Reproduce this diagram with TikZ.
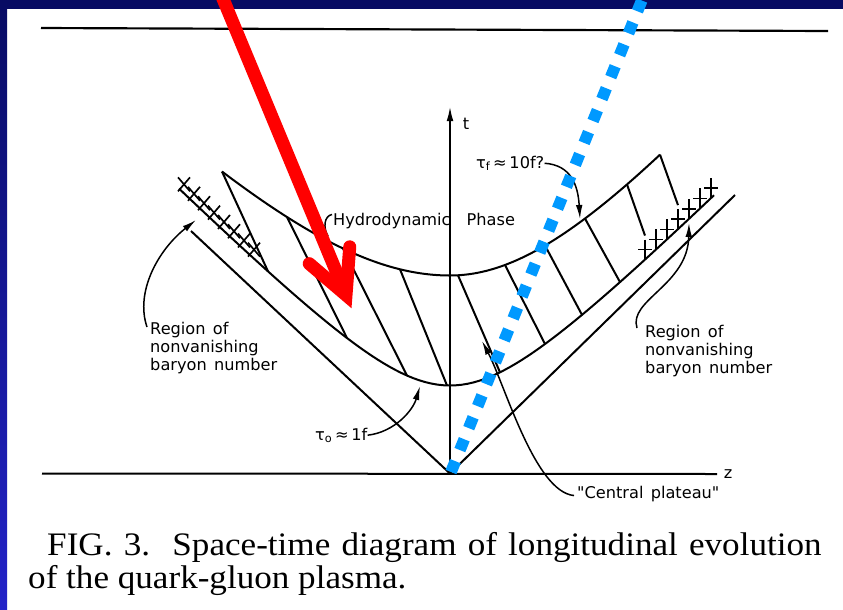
\documentclass[tikz,border=0pt]{standalone}
\usepackage{fontspec}
\setmainfont[FakeStretch=1.07]{Liberation Serif}
\newfontfamily\figfont{DejaVu Sans}
\newcommand\figsize{\fontsize{13.8}{15.5}\selectfont\spaceskip 0.45em plus 0.1em\relax}
\usetikzlibrary{calc,positioning,arrows.meta}
\definecolor{slidenavy}{HTML}{070B63}
\definecolor{slideblue}{HTML}{2323C8}
\definecolor{dotblue}{HTML}{0099FF}

\begin{document}
\begin{tikzpicture}[
    x=0.3mm, y=-0.3mm,
    declare function={t0(\z)=100*sqrt(0.7744+(\z/100)^2);
                      tf(\z)=100*sqrt(3.9204+(ifthenelse(\z<0,1,1.19)*\z/100)^2);},
    figline/.style={line width=0.6mm, black},
    leader/.style={line width=0.45mm, black, -{Latex[length=4.2mm,width=2mm]}},
    figlabel/.style={font=\figfont\figsize, inner sep=0pt, align=left},
    caption/.style={font=\fontsize{28}{34}\selectfont, inner sep=0pt},
    redarrow/.style={line width=3.9mm, red},
    bluedots/.style={line width=3.5mm, dotblue, dash pattern=on 3.5mm off 3.6mm}
    ]
    % Slide
    \useasboundingbox (0,0) rectangle (843,609);
    \clip (0,0) rectangle (843,609);
    \fill[white] (0,0) rectangle (843,609);
    \fill[slidenavy] (0,0) rectangle (843,9);
    \shade[top color=slidenavy, bottom color=slideblue] (0,0) rectangle (7,609);
    % Axes
    \coordinate (origin) at (450,473.5);
    \coordinate (ttop) at (450,106);
    \coordinate (zleft) at (42,473.5);
    \coordinate (zright) at (717,474);
    \draw[line width=0.65mm] (41,28) -- (828,31);
    \draw[figline] (zleft) -- (zright);
    \draw[figline, -{Latex[length=4.5mm,width=2mm]}] (origin) -- (ttop);
    \node[figlabel] (tlabel) at (466,124) {t};
    \node[figlabel] (zlabel) at (728,474) {z};
    % Light cone
    \coordinate (conel) at (191,231);
    \coordinate (coner) at (735,195);
    \draw[figline] (conel) -- (origin) -- (coner);
    % Hyperbolas tau_0 and tau_f
    \draw[figline] plot[domain=-271:264, samples=90] ({450+\x},{473.5-t0(\x)});
    \draw[figline] plot[domain=-228:210, samples=90] ({450+\x},{473.5-tf(\x)});
    % Hatching between them
    \foreach \zf/\zo/\lift in {-228/-182/0, -163/-103/0, -107/-43/0, -50/-3/0, 8/50/0,
                               55/95/0, 95/132/0, 135/170/0, 177/195/24, 210/228/24}
        \draw[figline] ({450+\zf},{473.5-tf(\zf)}) -- ({450+\zo},{473.5-t0(\zo)-\lift});
    % Crosses: nonvanishing baryon number
    \foreach \z in {-266,-256,...,-196} {
        \coordinate (c) at ({450+\z},{473.5-t0(\z)-9});
        \draw[figline, line width=0.5mm] ($(c)+(-6,-7)$) -- ($(c)+(6,7)$)
            ($(c)+(-6,7)$) -- ($(c)+(6,-7)$);
    }
    \foreach \z in {195,206,...,261} {
        \coordinate (c) at ({450+\z},{473.5-t0(\z)-10});
        \draw[figline, line width=0.5mm] ($(c)+(0,-10)$) -- ($(c)+(0,10)$)
            ($(c)+(-7,0)$) -- ($(c)+(7,0)$);
    }
    % Labels
    \node[figlabel, anchor=north west] (regionl) at (150,322) {Region of\\nonvanishing\\baryon number};
    \node[figlabel, anchor=north west] (regionr) at (645,325) {Region of\\nonvanishing\\baryon number};
    \node[figlabel, anchor=base west] (hydro) at (333,225) {Hydrodynamic\hspace{1em}Phase};
    \node[figlabel, anchor=base west] (tauf) at (476,168) {τ\textsubscript{f}\,≈\,10f?};
    \node[figlabel, anchor=base west] (tau0) at (315,440) {τ\textsubscript{o}\,≈\,1f};
    \node[figlabel, anchor=base west] (plateau) at (577,498) {"Central plateau"};
    % Leaders
    \coordinate (regarrowl) at (196,220);
    \coordinate (regarrowr) at (689,223);
    \coordinate (plateauarrow) at (482,341);
    \coordinate (tau0arrow) at (420,386);
    \coordinate (taufarrow) at (580,219);
    \coordinate (hydrohook) at (328,236);
    \draw[leader] ($(regionl.north west)+(-3,5)$) .. controls (135,292) and (158,250) .. (regarrowl);
    \draw[leader] ($(regionr.north west)+(-8,3)$) .. controls (628,300) and (688,285) .. (regarrowr);
    \draw[leader] ($(plateau.west)+(-3,2)$) .. controls (535,492) and (505,385) .. (plateauarrow);
    \draw[leader] (tau0.east) .. controls (395,432) and (413,410) .. (tau0arrow);
    \draw[leader] (tauf.east) .. controls (571,165) and (578,185) .. (taufarrow);
    \draw[line width=0.45mm] ($(hydro.north west)+(-1,2)$) .. controls (324,216) and (323,228) .. (hydrohook);
    % Caption
    \node[caption, anchor=base west] (cap1) at (47,555)
        {\makebox[661pt][s]{FIG. 3.\ \ Space-time diagram of longitudinal evolution}};
    \node[caption, anchor=base west] (cap2) at (28,588) {of the quark-gluon plasma.};
    % Blue dotted line
    \coordinate (bluestart) at (451,472);
    \coordinate (blueend) at (646,-10);
    \draw[bluedots] (bluestart) -- (blueend);
    % Red arrow
    \coordinate (redtail) at (221,-6);
    \coordinate (redtip) at (346,295);
    \draw[redarrow] (redtail) -- (redtip);
    \draw[redarrow, line cap=round, line join=miter]
        ($(redtip)!14.5mm!27:(redtail)$) -- (redtip) -- ($(redtip)!14.5mm!-27:(redtail)$);
\end{tikzpicture}
\end{document}
